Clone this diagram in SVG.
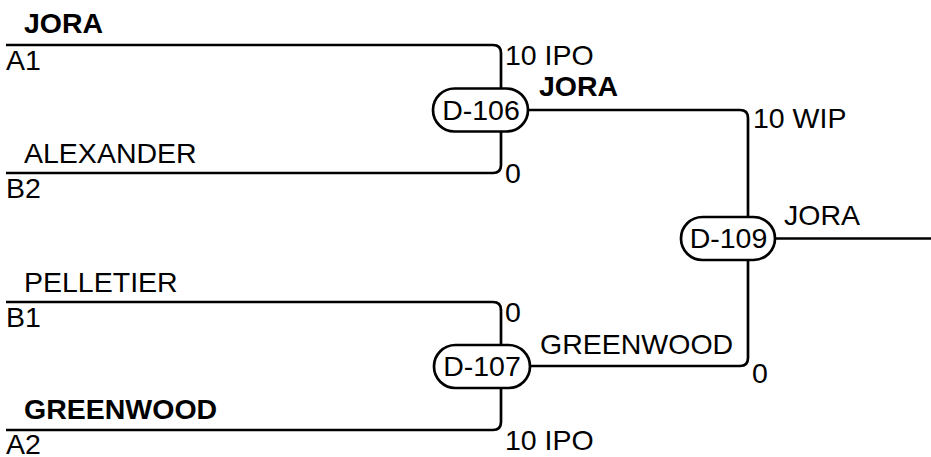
<svg xmlns="http://www.w3.org/2000/svg" width="931" height="457" viewBox="0 0 931 457">
<style>
text{font-family:"Liberation Sans",Arial,sans-serif;font-size:28.5px;fill:#000}
.b{font-weight:bold}
.m{text-anchor:middle}
.c{fill:none;stroke:#000;stroke-width:2.7}
.n{fill:#fff;stroke:#000;stroke-width:2.7}
</style>
<rect width="931" height="457" fill="#fff"/>
<g id="connectors">
<path class="c" d="M6,45 H493 Q501,45 501,53 V110"/>
<path class="c" d="M6,173 H493 Q501,173 501,165 V110"/>
<path class="c" d="M6,302 H493 Q501,302 501,310 V366"/>
<path class="c" d="M6,430 H493 Q501,430 501,422 V366"/>
<path class="c" d="M520,110 H740 Q748,110 748,118 V238"/>
<path class="c" d="M520,366 H740 Q748,366 748,358 V238"/>
<path class="c" d="M768,238.5 H931"/>
</g>
<g id="labels">
<text x="24" y="33" class="b">JORA</text>
<text x="6" y="70">A1</text>
<text x="24" y="163">ALEXANDER</text>
<text x="6" y="198">B2</text>
<text x="24" y="292">PELLETIER</text>
<text x="6" y="327">B1</text>
<text x="24" y="419" class="b">GREENWOOD</text>
<text x="6" y="454">A2</text>
<text x="505" y="65">10 IPO</text>
<text x="505" y="183">0</text>
<text x="505" y="322">0</text>
<text x="505" y="450">10 IPO</text>
<text x="539" y="96" class="b">JORA</text>
<text x="540" y="354">GREENWOOD</text>
<text x="753" y="128">10 WIP</text>
<text x="752" y="383">0</text>
<text x="784" y="225">JORA</text>
</g>
<g id="D-106">
<rect class="n" x="433" y="88.5" width="95" height="43" rx="21.5"/>
<text x="481" y="120" class="m">D-106</text>
</g>
<g id="D-107">
<rect class="n" x="434" y="345" width="96" height="43" rx="21.5"/>
<text x="482" y="376" class="m">D-107</text>
</g>
<g id="D-109">
<rect class="n" x="681" y="217" width="94" height="43" rx="21.5"/>
<text x="728.5" y="248" class="m">D-109</text>
</g>
</svg>
